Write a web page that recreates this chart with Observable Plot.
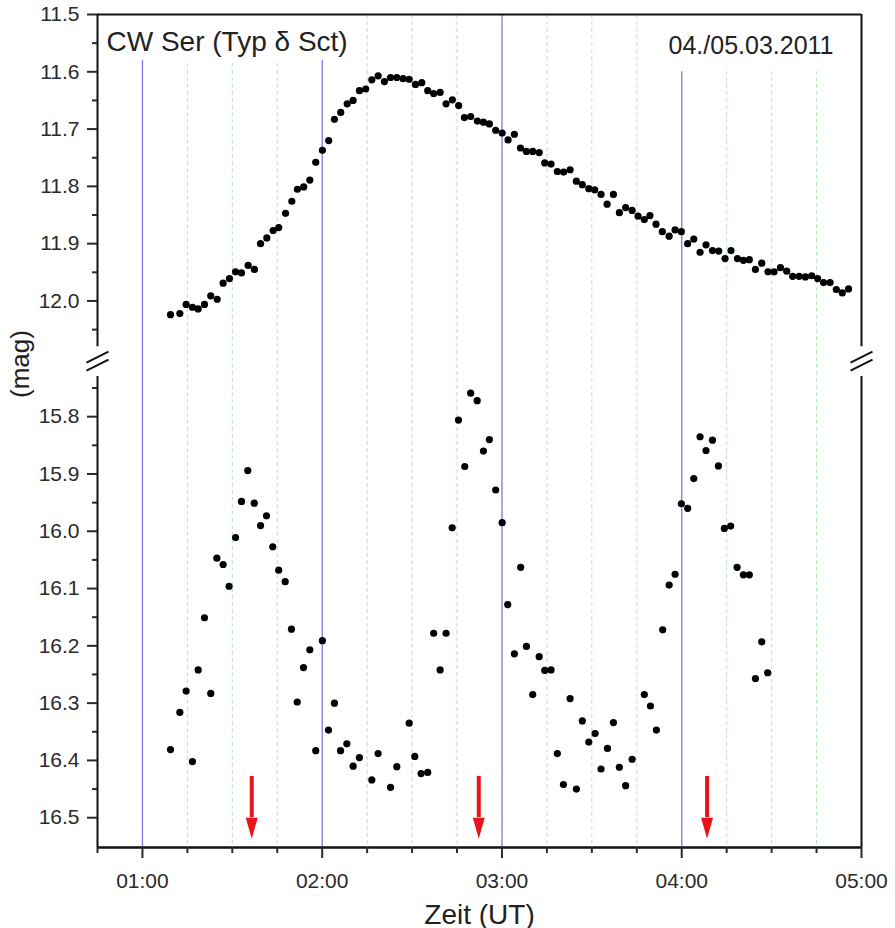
<!DOCTYPE html>
<html><head><meta charset="utf-8">
<script src="https://cdn.jsdelivr.net/npm/d3@7"></script>
<script src="https://cdn.jsdelivr.net/npm/@observablehq/plot@0.6"></script>
<style>html,body{margin:0;padding:0;background:#fff} svg{display:block}</style>
</head><body><div id="chart"></div>
<script>
// ---- data (time in hours UT, magnitudes) ----
const upperTime = [1.156,1.208,1.243,1.278,1.310,1.345,1.380,1.416,1.449,1.484,
1.518,1.551,1.588,1.623,1.657,1.692,1.727,1.758,1.796,1.831,
1.862,1.897,1.931,1.964,2.001,2.036,2.068,2.103,2.139,2.172,
2.207,2.242,2.276,2.311,2.346,2.380,2.415,2.450,2.484,2.519,
2.554,2.587,2.620,2.656,2.689,2.724,2.759,2.791,2.826,2.863,
2.897,2.930,2.965,3.001,3.034,3.069,3.103,3.136,3.171,3.207,
3.238,3.273,3.308,3.343,3.379,3.414,3.447,3.483,3.516,3.551,
3.585,3.620,3.653,3.688,3.724,3.757,3.792,3.823,3.857,3.892,
3.930,3.963,3.998,4.033,4.067,4.102,4.135,4.171,4.206,4.241,
4.274,4.310,4.343,4.376,4.410,4.445,4.480,4.514,4.549,4.584,
4.617,4.653,4.688,4.723,4.756,4.789,4.825,4.860,4.893,4.928];
const upperMag = [12.024,12.022,12.006,12.011,12.014,12.006,11.991,11.997,11.969,11.961,
11.949,11.951,11.938,11.945,11.900,11.890,11.877,11.872,11.847,11.826,
11.805,11.801,11.789,11.758,11.737,11.720,11.683,11.671,11.656,11.650,
11.633,11.630,11.614,11.607,11.617,11.610,11.610,11.612,11.613,11.622,
11.619,11.633,11.638,11.636,11.656,11.649,11.659,11.680,11.678,11.686,
11.688,11.691,11.702,11.707,11.719,11.709,11.733,11.739,11.739,11.741,
11.759,11.761,11.774,11.775,11.771,11.791,11.797,11.804,11.806,11.814,
11.831,11.814,11.846,11.837,11.842,11.852,11.858,11.851,11.866,11.879,
11.887,11.876,11.879,11.900,11.892,11.915,11.902,11.912,11.913,11.926,
11.912,11.926,11.929,11.928,11.945,11.934,11.949,11.949,11.942,11.948,
11.957,11.957,11.958,11.956,11.961,11.968,11.968,11.980,11.986,11.979];
const lowerTime = [1.156,1.208,1.243,1.278,1.310,1.345,1.380,1.414,1.449,1.482,
1.518,1.551,1.586,1.622,1.657,1.690,1.725,1.758,1.794,1.829,
1.861,1.896,1.931,1.964,2.001,2.035,2.068,2.102,2.137,2.172,
2.207,2.276,2.311,2.380,2.415,2.484,2.515,2.550,2.587,2.620,
2.656,2.689,2.723,2.758,2.793,2.826,2.862,2.897,2.930,2.965,
3.001,3.032,3.069,3.104,3.136,3.171,3.207,3.238,3.273,3.308,
3.342,3.379,3.414,3.447,3.483,3.518,3.551,3.587,3.620,3.653,
3.688,3.724,3.792,3.826,3.859,3.894,3.930,3.963,3.998,4.033,
4.067,4.102,4.135,4.171,4.204,4.237,4.272,4.308,4.343,4.376,
4.410,4.445,4.478];
const lowerMag = [16.381,16.316,16.279,16.402,16.242,16.151,16.283,16.047,16.058,16.096,
16.011,15.948,15.894,15.951,15.990,15.973,16.027,16.068,16.088,16.171,
16.298,16.238,16.207,16.383,16.191,16.347,16.300,16.383,16.371,16.410,
16.395,16.434,16.388,16.447,16.411,16.335,16.393,16.423,16.421,16.178,
16.242,16.178,15.994,15.806,15.887,15.759,15.772,15.860,15.840,15.928,
15.985,16.128,16.214,16.063,16.201,16.285,16.219,16.243,16.242,16.388,
16.442,16.292,16.450,16.331,16.368,16.353,16.415,16.379,16.334,16.412,
16.444,16.398,16.285,16.305,16.347,16.172,16.094,16.075,15.952,15.960,
15.908,15.835,15.859,15.841,15.886,15.995,15.991,16.063,16.076,16.076,
16.257,16.193,16.247];

const upperTicks = [11.5,11.6,11.7,11.8,11.9,12.0];
const upperMinorTicks = [11.55,11.65,11.75,11.85,11.95,12.05];
const lowerTicks = [15.8,15.9,16.0,16.1,16.2,16.3,16.4,16.5];
const lowerMinorTicks = [15.75,15.85,15.95,16.05,16.15,16.25,16.35,16.45];
const hourTicks = [1,2,3,4,5];
const hourLabels = ["01:00","02:00","03:00","04:00","05:00"];
const quarterTicks = [0.75,1.25,1.5,1.75,2.25,2.5,2.75,3.25,3.5,3.75,4.25,4.5,4.75];
const hourLines = [1,2,3,4];
const quarterLines = [1.25,1.5,1.75,2.25,2.5,2.75,3.25,3.5,3.75,4.25,4.5,4.75];
const arrowTimes = [1.608,2.871,4.141];
const arrowTopMag = 16.428, arrowHeadMag = 16.500;

const titleText = "CW Ser (Typ δ Sct)";
const dateText = "04./05.03.2011";
const xLabelText = "Zeit (UT)";
const yLabelText = "(mag)";

// axis break: lower segment is shifted up by OFFSET magnitudes
const OFFSET = 3.598;
const X_DOMAIN = [0.75, 5.0];
const Y_TOP = 11.5, Y_BOTTOM_MAG = 16.552;
const Y_BOTTOM = Y_BOTTOM_MAG - OFFSET;
const BREAK = 12.106, GAP = 0.026;
const labelBoxes = [
  {x1: 0.75, x2: 2.185, y1: 11.5, y2: 11.580},
  {x1: 3.80, x2: 5.0, y1: 11.5, y2: 11.600}
];

const upper = upperTime.map((t, i) => ({time: t, mag: upperMag[i]}));
const lower = lowerTime.map((t, i) => ({time: t, mag: lowerMag[i]}));
const frameSegments = [
  {x: X_DOMAIN[0], y1: Y_TOP, y2: BREAK - GAP}, {x: X_DOMAIN[0], y1: BREAK + GAP, y2: Y_BOTTOM},
  {x: X_DOMAIN[1], y1: Y_TOP, y2: BREAK - GAP}, {x: X_DOMAIN[1], y1: BREAK + GAP, y2: Y_BOTTOM}
];
const yFmt = t => (t < BREAK ? t : t + OFFSET).toFixed(1);

const arrowHead = {draw(ctx) { ctx.moveTo(-6, 0); ctx.lineTo(6, 0); ctx.lineTo(0, 21); ctx.closePath(); }};
const breakMark = {draw(ctx) { ctx.moveTo(-11, 1); ctx.lineTo(11, -10); ctx.moveTo(-11, 9); ctx.lineTo(11, -2); }};

const RED = "#e8141c";

const chart = Plot.plot({
  width: 895, height: 928,
  marginLeft: 97, marginRight: 34, marginTop: 14, marginBottom: 81,
  style: {fontFamily: "'Liberation Sans', Arial, sans-serif", fontSize: "21px", background: "white", color: "#222"},
  x: {domain: X_DOMAIN},
  y: {domain: [Y_TOP, Y_BOTTOM], reverse: true},
  marks: [
    Plot.ruleX(quarterLines, {x: d => d, stroke: "#b4eab4", strokeWidth: 1, strokeDasharray: "4,3"}),
    Plot.ruleX(hourLines, {x: d => d, stroke: "#7b7be2", strokeWidth: 1.3}),
    Plot.rect(labelBoxes, {x1: "x1", x2: "x2", y1: "y1", y2: "y2", fill: "white"}),
    Plot.text([titleText], {text: d => d, frameAnchor: "top-left", textAnchor: "start", lineAnchor: "bottom", dx: 9, dy: 36, fontSize: 28, fill: "#222"}),
    Plot.text([dateText], {text: d => d, frameAnchor: "top-right", textAnchor: "end", lineAnchor: "bottom", dx: -28, dy: 39, fontSize: 25, fill: "#222"}),
    Plot.dot(upper, {x: "time", y: "mag", r: 3.6, fill: "black"}),
    Plot.dot(lower, {x: "time", y: d => d.mag - OFFSET, r: 3.6, fill: "black"}),
    Plot.ruleX(arrowTimes, {x: d => d, y1: arrowTopMag - OFFSET, y2: arrowHeadMag - OFFSET, stroke: RED, strokeWidth: 4}),
    Plot.dot(arrowTimes, {x: d => d, y: arrowHeadMag - OFFSET, symbol: arrowHead, fill: RED, stroke: "none"}),
    // frame with broken vertical sides
    Plot.ruleY([Y_TOP], {stroke: "#111", strokeWidth: 2}),
    Plot.ruleY([Y_BOTTOM], {stroke: "#111", strokeWidth: 2.5}),
    Plot.ruleX(frameSegments, {x: "x", y1: "y1", y2: "y2", stroke: "#111", strokeWidth: 2}),
    Plot.dot(X_DOMAIN, {x: d => d, y: BREAK, symbol: breakMark, stroke: "#111", strokeWidth: 2, fill: "none"}),
    // axes
    Plot.axisY({ticks: [...upperTicks, ...lowerTicks.map(v => v - OFFSET)], tickFormat: yFmt, tickSize: 10, tickPadding: 8, strokeWidth: 2, label: null, fontSize: 21, color: "#2a2a2a"}),
    Plot.axisY({ticks: [...upperMinorTicks, ...lowerMinorTicks.map(v => v - OFFSET)], tickFormat: () => "", tickSize: 5, strokeWidth: 2, label: null, color: "#2a2a2a"}),
    Plot.axisX({ticks: hourTicks, tickFormat: d => hourLabels[hourTicks.indexOf(d)], tickSize: 11, tickPadding: 15, strokeWidth: 2, label: null, fontSize: 21, color: "#2a2a2a"}),
    Plot.axisX({ticks: quarterTicks, tickFormat: () => "", tickSize: 6, strokeWidth: 2, label: null, color: "#2a2a2a"}),
    Plot.text([xLabelText], {text: d => d, frameAnchor: "bottom", lineAnchor: "bottom", dy: 76, fontSize: 28, fill: "#222"}),
    Plot.text([yLabelText], {text: d => d, frameAnchor: "left", rotate: -90, dx: -77, dy: -33, fontSize: 26, fill: "#222"})
  ]
});
document.getElementById("chart").appendChild(chart);
</script>
</body></html>
